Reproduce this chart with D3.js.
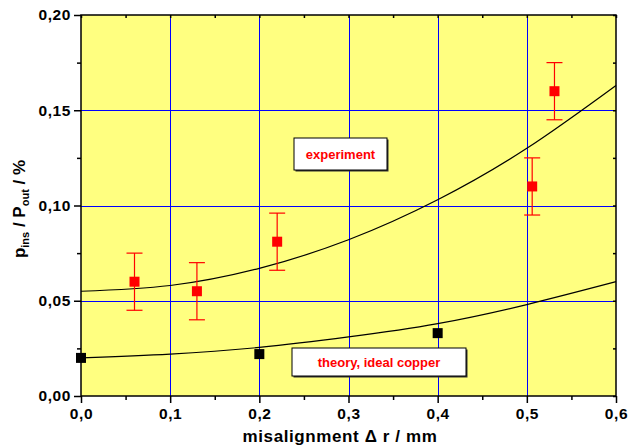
<!DOCTYPE html>
<html>
<head>
<meta charset="utf-8">
<script src="https://cdn.jsdelivr.net/npm/d3@7"></script>
<style>
  body { margin: 0; background: #fff; }
  text { font-family: "Liberation Sans", Arial, sans-serif; font-weight: bold; }
</style>
</head>
<body>
<svg id="chart" width="629" height="445"></svg>
<script>
// measured points (red, with error bars)
var exp_x   = [0.06, 0.13, 0.22, 0.506, 0.531],
    exp_y   = [0.060, 0.055, 0.081, 0.110, 0.160],
    exp_err = [0.015, 0.015, 0.015, 0.015, 0.015];

// theory points (black)
var theo_x = [0.0, 0.2, 0.4],
    theo_y = [0.020, 0.022, 0.033];

// fitted curves
var curve_x     = [0.0, 0.1, 0.2, 0.3, 0.4, 0.5, 0.6],
    curve_upper = [0.055, 0.058, 0.067, 0.082, 0.103, 0.130, 0.163],
    curve_lower = [0.020, 0.022, 0.0255, 0.031, 0.038, 0.048, 0.060];

var x_ticks = [0, 0.1, 0.2, 0.3, 0.4, 0.5, 0.6],
    y_ticks = [0, 0.05, 0.10, 0.15, 0.20],
    x_minor = [0.05, 0.15, 0.25, 0.35, 0.45, 0.55],
    y_minor = [0.025, 0.075, 0.125, 0.175];

// note: "top" is taken by window.top, hence the plot_ prefix
var svg = d3.select("#chart"),
    plot_left = 81, plot_right = 616, plot_top = 15, plot_bottom = 396,
    x = d3.scaleLinear().domain([0, 0.6]).range([plot_left, plot_right]),
    y = d3.scaleLinear().domain([0, 0.2]).range([plot_bottom, plot_top]),
    comma = function(d, n) { return d.toFixed(n).replace('.', ','); },
    crisp = function(v) { return Math.round(v) + 0.5; };

// plot background
svg.append("rect")
    .attr("x", plot_left).attr("y", plot_top)
    .attr("width", plot_right - plot_left).attr("height", plot_bottom - plot_top)
    .attr("fill", "#ffff80");

// grid
var grid = svg.append("g")
    .attr("class", "grid")
    .style("shape-rendering", "crispEdges");
grid.selectAll("line.gx")
    .data(x_ticks.slice(1, -1))
    .enter().append("line")
    .attr("class", "gx")
    .attr("x1", d => crisp(x(d))).attr("x2", d => crisp(x(d)))
    .attr("y1", plot_top).attr("y2", plot_bottom)
    .style("stroke", "#0000ff").style("stroke-width", 1);
grid.selectAll("line.gy")
    .data(y_ticks.slice(1, -1))
    .enter().append("line")
    .attr("class", "gy")
    .attr("x1", plot_left).attr("x2", plot_right)
    .attr("y1", d => crisp(y(d))).attr("y2", d => crisp(y(d)))
    .style("stroke", "#0000ff").style("stroke-width", 1);

// axes (major ticks outward, minor shorter)
svg.append("g")
    .attr("transform", "translate(0," + plot_bottom + ")")
    .call(d3.axisBottom(x).tickValues(x_ticks).tickSize(7).tickPadding(5)
        .tickFormat(d => comma(d, 1)));
svg.append("g")
    .attr("transform", "translate(0," + plot_bottom + ")")
    .call(d3.axisBottom(x).tickValues(x_minor).tickSize(4).tickFormat(""));

svg.append("g")
    .attr("transform", "translate(" + plot_left + ",0)")
    .call(d3.axisLeft(y).tickValues(y_ticks).tickSize(7).tickPadding(3)
        .tickFormat(d => comma(d, 2)));
svg.append("g")
    .attr("transform", "translate(" + plot_left + ",0)")
    .call(d3.axisLeft(y).tickValues(y_minor).tickSize(4).tickFormat(""));

// top and right: short inward ticks
svg.append("g")
    .attr("transform", "translate(0," + plot_top + ")")
    .call(d3.axisBottom(x).tickValues(x_ticks.concat(x_minor)).tickSize(3).tickFormat(""));
svg.append("g")
    .attr("transform", "translate(" + plot_right + ",0)")
    .call(d3.axisLeft(y).tickValues(y_ticks.concat(y_minor)).tickSize(3).tickFormat(""));

svg.selectAll(".tick line").attr("stroke", "#000").attr("stroke-width", 1.5);
svg.selectAll(".tick text")
    .attr("fill", "#000")
    .style("font-size", "15.5px")
    .style("letter-spacing", "0.6px")
    .style("font-weight", "bold")
    .style("font-family", '"Liberation Sans", Arial, sans-serif');
svg.selectAll(".domain").attr("stroke", "none");

// frame
svg.append("rect")
    .attr("x", plot_left).attr("y", plot_top)
    .attr("width", plot_right - plot_left).attr("height", plot_bottom - plot_top)
    .attr("fill", "none").attr("stroke", "#000").attr("stroke-width", 1.5);

// fitted curves
var line = d3.line()
    .x(d => x(d[0]))
    .y(d => y(d[1]))
    .curve(d3.curveNatural);
[curve_upper, curve_lower].forEach(function(vals) {
    svg.append("path")
        .datum(curve_x.map((cx, i) => [cx, vals[i]]))
        .attr("d", line)
        .attr("fill", "none")
        .attr("stroke", "#000")
        .attr("stroke-width", 1.2);
});

// error bars
var eb = svg.append("g").attr("stroke", "#ff0000").attr("stroke-width", 1.2);
exp_x.forEach(function(ex, i) {
    var lo = y(exp_y[i] - exp_err[i]), hi = y(exp_y[i] + exp_err[i]);
    eb.append("line").attr("x1", x(ex)).attr("x2", x(ex)).attr("y1", lo).attr("y2", hi);
    eb.append("line").attr("x1", x(ex) - 8).attr("x2", x(ex) + 8).attr("y1", lo).attr("y2", lo);
    eb.append("line").attr("x1", x(ex) - 8).attr("x2", x(ex) + 8).attr("y1", hi).attr("y2", hi);
});

// markers
svg.append("g").selectAll("rect")
    .data(exp_x.map((ex, i) => [ex, exp_y[i]]))
    .enter().append("rect")
    .attr("x", d => x(d[0]) - 5).attr("y", d => y(d[1]) - 5)
    .attr("width", 10).attr("height", 10)
    .attr("fill", "#ff0000");
svg.append("g").selectAll("rect")
    .data(theo_x.map((tx, i) => [tx, theo_y[i]]))
    .enter().append("rect")
    .attr("x", d => x(d[0]) - 5).attr("y", d => y(d[1]) - 5)
    .attr("width", 10).attr("height", 10)
    .attr("fill", "#000");

// labels in boxes
function label_box(bx, by, w, h, txt) {
    svg.append("rect")
        .attr("x", bx + 1.5).attr("y", by + 1.5)
        .attr("width", w).attr("height", h)
        .attr("fill", "#333");
    svg.append("rect")
        .attr("x", bx).attr("y", by)
        .attr("width", w).attr("height", h)
        .attr("fill", "#fff").attr("stroke", "#000").attr("stroke-width", 1);
    svg.append("text")
        .attr("x", bx + w / 2).attr("y", by + h / 2 + 5)
        .attr("text-anchor", "middle")
        .attr("fill", "#ff0000")
        .style("font-size", "13px")
        .text(txt);
}
label_box(294, 138, 93, 32, "experiment");
label_box(292, 348, 174, 28, "theory, ideal copper");

// axis titles
svg.append("text")
    .attr("x", 340).attr("y", 442)
    .attr("text-anchor", "middle")
    .style("font-size", "17px")
    .style("letter-spacing", "0.6px")
    .text("misalignment  \u0394 r / mm");

var yt = svg.append("text")
    .attr("transform", "translate(25,209) rotate(-90)")
    .attr("text-anchor", "middle")
    .style("font-size", "17px");
yt.append("tspan").text("p");
yt.append("tspan").attr("dy", 4).style("font-size", "11px").text("ins");
yt.append("tspan").attr("dy", -4).text(" / P");
yt.append("tspan").attr("dy", 4).style("font-size", "11px").text("out");
yt.append("tspan").attr("dy", -4).text(" / %");
</script>
</body>
</html>
